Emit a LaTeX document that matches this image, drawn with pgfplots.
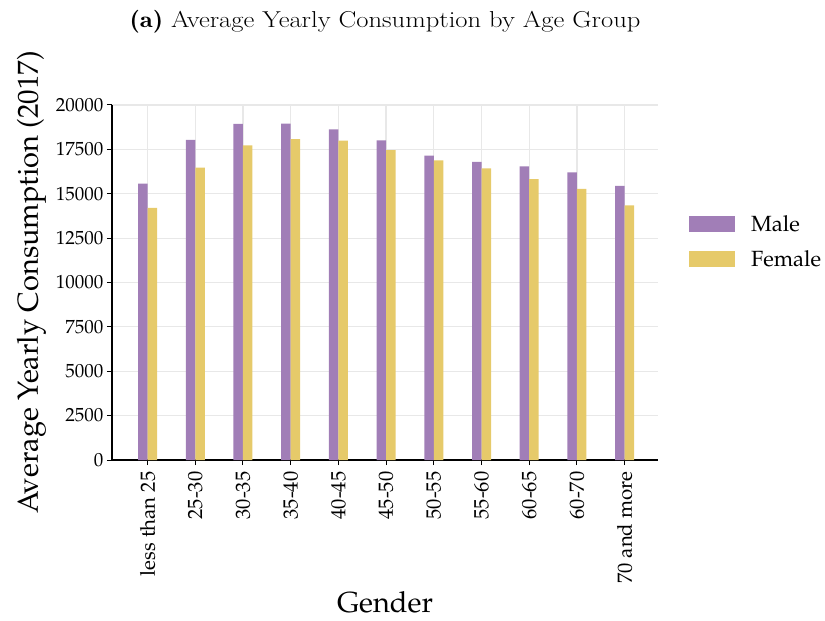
\documentclass[border=0pt]{standalone}
\usepackage[T1]{fontenc}
\usepackage{mathpazo}
\usepackage{pgfplots}
\pgfplotsset{compat=1.18}
\definecolor{male}{RGB}{161,126,183}
\definecolor{female}{RGB}{230,202,106}
\definecolor{gridgray}{RGB}{232,232,232}
\pgfplotsset{patchleg/.style={legend image code/.code={\fill[##1] (0pt,-8pt) rectangle (46pt,8pt);}}}
\begin{document}
\begin{tikzpicture}
\begin{axis}[
  scale only axis, width=546pt, height=355pt,
  xmin=-0.746, xmax=10.70, ymin=0, ymax=20000,
  axis x line*=bottom, axis y line*=left,
  axis line style={line width=1.2pt},
  ybar,
  xtick={0,...,10},
  xticklabels={less than 25,25-30,30-35,35-40,40-45,45-50,50-55,55-60,60-65,60-70,70 and more},
  ytick={0,2500,...,20000},
  scaled y ticks=false,
  y tick label style={/pgf/number format/1000 sep={}, font=\fontsize{19}{19}\selectfont},
  x tick label style={rotate=90, anchor=east, xshift=-3pt, font=\fontsize{20.5}{20.5}\selectfont},
  grid=major, major grid style={gridgray, line width=1.2pt},
  tick align=outside, major tick length=5pt,
  tick style={black, line width=1pt},
  xlabel={Gender}, ylabel={Average Yearly Consumption (2017)},
  label style={font=\fontsize{29}{29}\selectfont},
  xlabel style={yshift=-1pt},
  ylabel style={yshift=3pt},
  title={\scalebox{1.155}[1]{{\fontencoding{TU}\fontfamily{lmr}\fontseries{b}\selectfont(a)} Average Yearly Consumption by Age Group}},
  title style={font=\fontencoding{TU}\fontfamily{lmr}\fontseries{m}\fontsize{23}{23}\selectfont, at={(axis description cs:0.5,1)}, anchor=base, yshift=71pt},
  legend style={at={(axis description cs:1.051,0.701)}, anchor=north west, draw=none, fill=none,
    font=\fontsize{22}{22}\selectfont, row sep=14pt,
    /tikz/every odd column/.append style={column sep=14pt}},
  legend cell align=left,
]
\addplot[fill=male, draw=none, bar width=9.5pt, bar shift=-4.75pt, patchleg]
  coordinates {(0,15570) (1,18030) (2,18930) (3,18950) (4,18630) (5,18010) (6,17150) (7,16790) (8,16540) (9,16210) (10,15440)};
\addplot[fill=female, draw=none, bar width=9.5pt, bar shift=4.75pt, patchleg]
  coordinates {(0,14200) (1,16470) (2,17730) (3,18080) (4,17990) (5,17460) (6,16880) (7,16430) (8,15830) (9,15270) (10,14350)};
\legend{Male,Female}
\end{axis}
\pgfresetboundingbox
\path (-112pt,-161pt) rectangle (713pt,460pt);
\end{tikzpicture}
\end{document}
